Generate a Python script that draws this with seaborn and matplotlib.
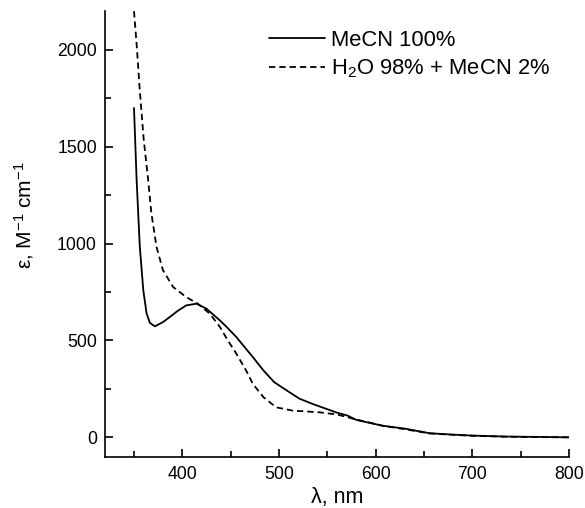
import pandas as pd
import seaborn as sns
import matplotlib.pyplot as plt
from matplotlib.ticker import MultipleLocator

# MeCN 100 %
wl_mecn = [350, 352.7, 356, 359.6, 363, 366.5, 371.7, 380, 387, 395, 404, 414.7,
           425, 439, 446, 456, 473, 484, 495, 508, 521, 535, 559, 571, 580, 607,
           630, 656, 680, 700, 735, 770, 800]
eps_mecn = [1700, 1330, 985, 760, 640, 590, 573, 595, 621, 652, 681, 690,
            664, 603, 569, 517, 414, 345, 285, 242, 200, 172, 129, 112, 90, 60,
            45, 21, 14, 9, 4, 2, 0]

# H2O 98 % + MeCN 2 %
wl_water = [350, 353, 356, 360, 364.7, 368, 373.3, 380, 390.5, 404, 416, 428.5,
            439, 446, 456, 466, 473, 484, 497, 514, 542, 560, 580, 607, 630,
            656, 680, 700, 735, 770, 800]
eps_water = [2200, 2010, 1790, 1540, 1327, 1156, 983, 862, 776, 724, 690, 638,
             569, 509, 431, 345, 276, 207, 155, 138, 129, 118, 92, 60, 42,
             20, 13, 8, 3, 1, 0]

labels = ["MeCN 100%", "H$_2$O 98% + MeCN 2%"]

df = pd.concat([
    pd.DataFrame({"wl": wl_mecn, "eps": eps_mecn, "solvent": labels[0]}),
    pd.DataFrame({"wl": wl_water, "eps": eps_water, "solvent": labels[1]}),
])

sns.set_style("ticks")
plt.rcParams["font.family"] = ["Liberation Sans", "DejaVu Sans"]
plt.rcParams["mathtext.fontset"] = "custom"
plt.rcParams["mathtext.rm"] = "Liberation Sans"
plt.rcParams["mathtext.it"] = "Liberation Sans:italic"
for k in ["text.color", "axes.labelcolor", "xtick.color", "ytick.color", "axes.edgecolor"]:
    plt.rcParams[k] = "black"

fig = plt.figure(figsize=(5.85, 5.08), dpi=100)
ax = fig.add_axes([0.1795, 0.101, 0.793, 0.877])

sns.lineplot(data=df, x="wl", y="eps", style="solvent", color="black",
             dashes={labels[0]: "", labels[1]: (3.5, 2.2)}, linewidth=1.3,
             sort=False, ax=ax)

ax.set_xlim(320, 800)
ax.set_ylim(-100, 2200)
ax.xaxis.set_major_locator(MultipleLocator(100))
ax.xaxis.set_minor_locator(MultipleLocator(50))
ax.yaxis.set_major_locator(MultipleLocator(500))
ax.yaxis.set_minor_locator(MultipleLocator(250))
ax.tick_params(which="both", direction="in", width=1.2, labelsize=12.7)
ax.tick_params(axis="y", pad=5.8)
ax.tick_params(axis="x", pad=6.5)
ax.tick_params(which="major", length=6)
ax.tick_params(which="minor", length=4)
sns.despine(ax=ax)
for s in ["left", "bottom"]:
    ax.spines[s].set_linewidth(1.2)

ax.set_xlabel("λ, nm", fontsize=15.5, labelpad=3)
ax.set_ylabel("ε, M$^{-1}$ cm$^{-1}$", fontsize=15)
ax.yaxis.set_label_coords(-0.149, 0.541)

ax.legend(title=None, frameon=False, fontsize=15.8, loc="upper right",
          handlelength=2.55, handletextpad=0.28, labelspacing=0.3,
          borderaxespad=0.45, bbox_to_anchor=(1.0, 1.0))

fig.savefig("out.png", dpi=100)
